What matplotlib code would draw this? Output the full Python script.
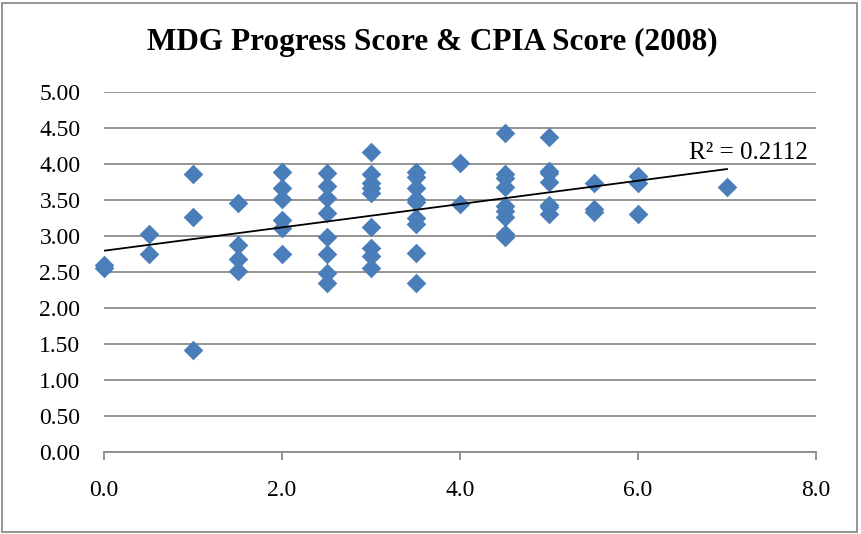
import matplotlib
matplotlib.use("Agg")
import matplotlib.pyplot as plt
import numpy as np
from matplotlib.patches import Rectangle

# CPIA score (x) and MDG progress score (y)
x_vals = [0, 0,
          0.5, 0.5,
          1, 1, 1,
          1.5, 1.5, 1.5, 1.5,
          2, 2, 2, 2, 2, 2,
          2.5, 2.5, 2.5, 2.5, 2.5, 2.5, 2.5, 2.5,
          3, 3, 3, 3, 3, 3, 3, 3, 3,
          3.5, 3.5, 3.5, 3.5, 3.5, 3.5, 3.5, 3.5, 3.5,
          4, 4,
          4.5, 4.5, 4.5, 4.5, 4.5, 4.5, 4.5, 4.5, 4.5,
          5, 5, 5, 5, 5, 5, 5,
          5.5, 5.5, 5.5,
          6, 6, 6,
          7]
y_vals = [2.60, 2.56,
          3.03, 2.75,
          3.86, 3.26, 1.41,
          3.46, 2.87, 2.68, 2.52,
          3.89, 3.67, 3.52, 3.22, 3.11, 2.75,
          3.87, 3.70, 3.53, 3.32, 2.99, 2.75, 2.49, 2.35,
          4.17, 3.86, 3.73, 3.66, 3.60, 3.13, 2.84, 2.72, 2.55,
          3.89, 3.82, 3.67, 3.52, 3.47, 3.25, 3.16, 2.76, 2.35,
          4.01, 3.45,
          4.43, 3.86, 3.81, 3.68, 3.42, 3.35, 3.27, 3.03, 2.99,
          4.38, 3.90, 3.87, 3.75, 3.43, 3.40, 3.30,
          3.74, 3.37, 3.33,
          3.83, 3.74, 3.30,
          3.68]

title = "MDG Progress Score & CPIA Score (2008)"
r2_label = "R² = 0.2112"
x_ticks = [0, 2, 4, 6, 8]
y_ticks = [0, 0.5, 1, 1.5, 2, 2.5, 3, 3.5, 4, 4.5, 5]

plt.rcParams['font.family'] = ['Liberation Serif', 'DejaVu Serif']

fig = plt.figure(figsize=(8.61, 5.34), dpi=100)
ax = fig.add_axes([104/861, 1 - 452/534, (816-104)/861, (452-92)/534])

ax.scatter(x_vals, y_vals, marker='D', s=100, color='#4A7EBB', linewidths=0,
           zorder=3, clip_on=False)

coef = np.polyfit(x_vals, y_vals, 1)
xl = np.array([0, 7])
ax.plot(xl, np.polyval(coef, xl), color='black', lw=1.3, zorder=4)
ax.text(7.91, 4.07, r2_label, fontsize=18, ha='right', va='baseline')

ax.set_xlim(0, 8)
ax.set_ylim(0, 5)
ax.set_xticks(x_ticks)
ax.set_xticklabels([f"{v:.1f}" for v in x_ticks])
ax.set_yticks(y_ticks)
ax.set_yticklabels([f"{v:.2f}" for v in y_ticks])
ax.yaxis.grid(True, color='#8c8c8c', lw=1.3)
ax.set_axisbelow(True)
for s in ['top', 'right', 'left']:
    ax.spines[s].set_visible(False)
ax.spines['bottom'].set_color('#8c8c8c')
ax.spines['bottom'].set_linewidth(1.3)
ax.tick_params(axis='y', length=0, labelsize=17, pad=17)
ax.tick_params(axis='x', length=6, color='#8c8c8c', width=1.3, labelsize=17, pad=14, direction='out')

fig.text(432/861, 1 - 42/534, title, fontsize=22.5, fontweight='bold', ha='center', va='center')

fig.patches.append(Rectangle((2/861, 2/534), 855/861, 529/534, transform=fig.transFigure,
                             fill=False, edgecolor='#8c8c8c', lw=1.3))

fig.savefig("out.png", dpi=100)
